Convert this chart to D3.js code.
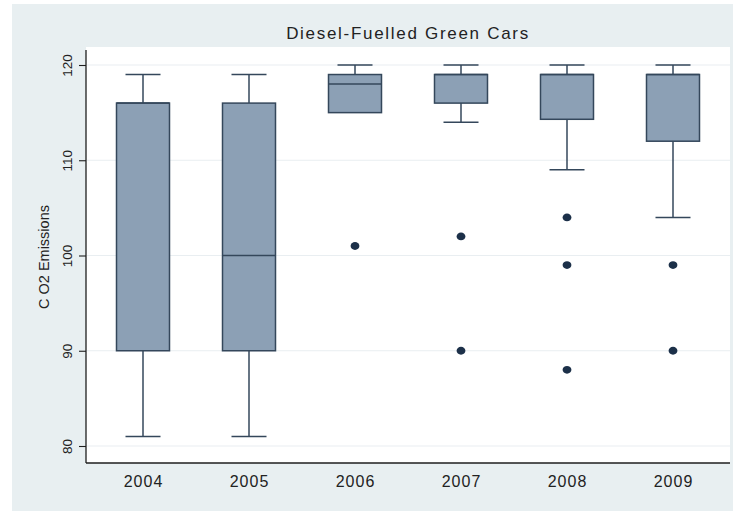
<!DOCTYPE html>
<html>
<head>
<meta charset="utf-8">
<script src="https://cdn.jsdelivr.net/npm/d3@7/dist/d3.min.js"></script>
<style>
  html, body { margin: 0; padding: 0; background: #ffffff; }
  svg { display: block; font-family: "Liberation Sans", Arial, sans-serif; }
</style>
</head>
<body>
<svg id="chart" width="750" height="511"></svg>
<script>
// Model years and box-plot summaries of CO2 emissions (g/km)
const years      = ["2004", "2005", "2006", "2007", "2008", "2009"];
const upperWhisk = [119, 119, 120, 120, 120, 120];
const q3         = [116, 116, 119, 119, 119, 119];
const medians    = [116, 100, 118, 119, 119, 119];
const q1         = [90, 90, 115, 116, 114.3, 112];
const lowerWhisk = [81, 81, 115, 114, 109, 104];
const outliers   = [[], [], [101], [102, 90], [104, 99, 88], [99, 90]];
const yTicks     = [80, 90, 100, 110, 120];

const title = "Diesel-Fuelled Green Cars";
const yTitle = "C O2 Emissions";

const svg = d3.select("#chart");

// Graph region background
svg.append("rect")
  .attr("x", 12).attr("y", 4).attr("width", 721).attr("height", 507)
  .attr("fill", "#e8eff1");

// Plot region
const plot = { left: 86, right: 730, top: 47, bottom: 463 };
svg.append("rect")
  .attr("x", plot.left).attr("y", plot.top)
  .attr("width", plot.right - plot.left).attr("height", plot.bottom - plot.top)
  .attr("fill", "#ffffff");

const y = d3.scaleLinear().domain([80, 120]).range([446, 65]);
const x = d3.scaleBand().domain(years).range([90, 726]).padding(0);
const cx = d => x(d) + x.bandwidth() / 2;
const boxW = x.bandwidth() * 0.5;
const capW = 35;

// Horizontal grid lines
svg.append("g").selectAll("line")
  .data(yTicks).join("line")
  .attr("x1", plot.left + 1).attr("x2", plot.right)
  .attr("y1", d => y(d)).attr("y2", d => y(d))
  .attr("stroke", "#e9eef1").attr("stroke-width", 1.2);

// Y axis
const yAxis = svg.append("g")
  .attr("transform", `translate(${plot.left},0)`)
  .call(d3.axisLeft(y).tickValues(yTicks).tickSize(7).tickSizeOuter(0).tickFormat(d3.format("d")));
yAxis.select(".domain").remove();
yAxis.append("line")
  .attr("x1", 0).attr("x2", 0).attr("y1", 50).attr("y2", plot.bottom)
  .attr("stroke", "#1e1e1e").attr("stroke-width", 1.3);
yAxis.selectAll(".tick line").attr("stroke", "#1e1e1e").attr("stroke-width", 1.1);
yAxis.selectAll(".tick text")
  .attr("x", null).attr("dy", null)
  .attr("transform", "translate(-14,0) rotate(-90)")
  .attr("text-anchor", "middle")
  .attr("fill", "#222")
  .style("font-size", "13.5px")
  .style("font-family", "'Liberation Sans', Arial, sans-serif");

// X axis
const xAxis = svg.append("g")
  .attr("transform", `translate(0,${plot.bottom})`)
  .call(d3.axisBottom(x).tickSize(0).tickPadding(13));
xAxis.select(".domain").remove();
xAxis.append("line")
  .attr("x1", plot.left).attr("x2", plot.right).attr("y1", 0).attr("y2", 0)
  .attr("stroke", "#1e1e1e").attr("stroke-width", 1.3);
xAxis.selectAll(".tick text")
  .attr("fill", "#222")
  .attr("dx", "0.5px")
  .style("font-size", "16px")
  .style("letter-spacing", "1px")
  .style("font-family", "'Liberation Sans', Arial, sans-serif");

// Boxes
const stroke = "#34475b";
const boxes = svg.append("g").selectAll("g")
  .data(years.map((yr, i) => ({
    yr, hi: upperWhisk[i], q3: q3[i], med: medians[i], q1: q1[i], lo: lowerWhisk[i], out: outliers[i]
  })))
  .join("g");

// Whisker stems
boxes.append("line")
  .attr("x1", d => cx(d.yr)).attr("x2", d => cx(d.yr))
  .attr("y1", d => y(d.hi)).attr("y2", d => y(d.q3))
  .attr("stroke", stroke).attr("stroke-width", 1.5);
boxes.append("line")
  .attr("x1", d => cx(d.yr)).attr("x2", d => cx(d.yr))
  .attr("y1", d => y(d.q1)).attr("y2", d => y(d.lo))
  .attr("stroke", stroke).attr("stroke-width", 1.5);
// Caps
boxes.append("line")
  .attr("x1", d => cx(d.yr) - capW / 2).attr("x2", d => cx(d.yr) + capW / 2)
  .attr("y1", d => y(d.hi)).attr("y2", d => y(d.hi))
  .attr("stroke", stroke).attr("stroke-width", 1.5);
boxes.filter(d => d.lo < d.q1).append("line")
  .attr("x1", d => cx(d.yr) - capW / 2).attr("x2", d => cx(d.yr) + capW / 2)
  .attr("y1", d => y(d.lo)).attr("y2", d => y(d.lo))
  .attr("stroke", stroke).attr("stroke-width", 1.5);
// Interquartile box
boxes.append("rect")
  .attr("x", d => cx(d.yr) - boxW / 2).attr("width", boxW)
  .attr("y", d => y(d.q3)).attr("height", d => y(d.q1) - y(d.q3))
  .attr("fill", "#8ca0b5").attr("stroke", stroke).attr("stroke-width", 1.5);
// Median
boxes.append("line")
  .attr("x1", d => cx(d.yr) - boxW / 2).attr("x2", d => cx(d.yr) + boxW / 2)
  .attr("y1", d => y(d.med)).attr("y2", d => y(d.med))
  .attr("stroke", stroke).attr("stroke-width", 1.5);
// Outside values
boxes.selectAll("ellipse")
  .data(d => d.out.map(v => ({ yr: d.yr, v })))
  .join("ellipse")
  .attr("cx", d => cx(d.yr)).attr("cy", d => y(d.v))
  .attr("rx", 4.4).attr("ry", 3.9)
  .attr("fill", "#1c3049");

// Titles
svg.append("text")
  .attr("x", 408).attr("y", 39)
  .attr("text-anchor", "middle")
  .attr("fill", "#222")
  .style("font-size", "17px")
  .style("letter-spacing", "1.7px")
  .text(title);

svg.append("text")
  .attr("transform", "translate(49,257) rotate(-90)")
  .attr("text-anchor", "middle")
  .attr("fill", "#222")
  .style("font-size", "14.5px")
  .text(yTitle);
</script>
</body>
</html>
